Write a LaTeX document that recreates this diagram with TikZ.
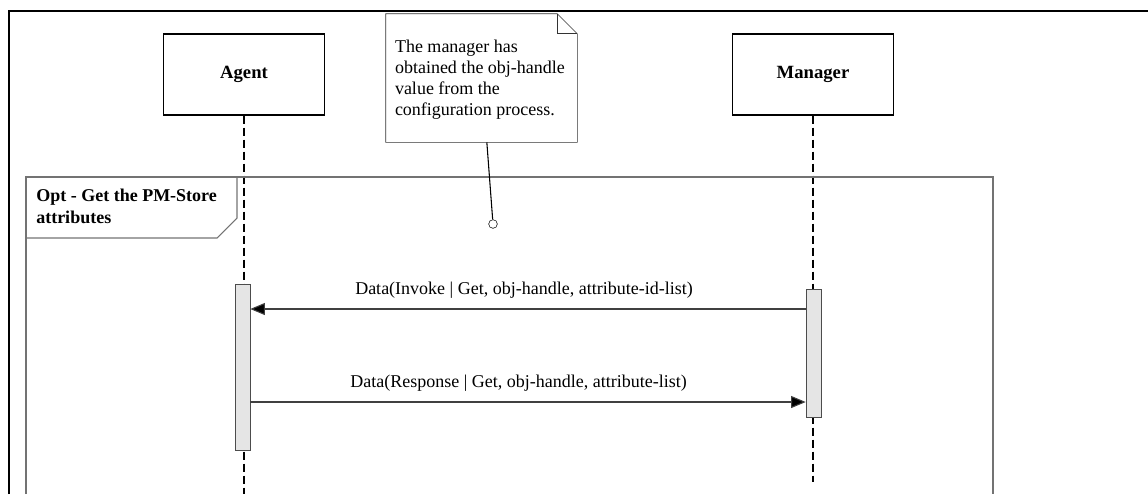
\documentclass[tikz,border=0pt]{standalone}
\usepackage{fontspec}
\setmainfont{Liberation Serif}
\usetikzlibrary{arrows.meta,positioning}

\tikzset{
	actor/.style={draw,line width=0.9pt,minimum width=120.75pt,minimum height=60.75pt,inner sep=0pt,font=\fontsize{14}{16}\selectfont\bfseries},
	lifeline/.style={dash pattern=on 6pt off 3pt,line width=0.9pt},
	actbar/.style={draw=black!70,fill=gray!20,minimum width=11.25pt,inner sep=0pt},
	msg/.style={draw=black!75,line width=0.8pt,-{Triangle[length=11pt,width=9pt,fill=black]}},
	notebox/.style={minimum width=143.25pt,minimum height=96pt,inner sep=0pt},
}

\begin{document}
\begin{tikzpicture}[x=0.75pt,y=-0.75pt,font=\fontsize{13.5}{15.75}\selectfont]
	\useasboundingbox (0,0) rectangle (1148,494);

	% Outer frame (cut by the page on the right and at the bottom)
	\draw [line width=1.5pt] (9,494) -- (9,11) -- (1148,11);

	% Lifeline heads
	\node [actor] (agent)   at (244,74.5) {Agent};
	\node [actor] (manager) at (813,74.5) {Manager};

	% Lifelines
	\coordinate (agentend)   at (244,494);
	\coordinate (managerend) at (813,482);
	\draw [lifeline] (agent.south)   -- (agent.south |- agentend);
	\draw [lifeline] (manager.south) -- (manager.south |- managerend);

	% Note with the folded corner:
	\node [notebox] (note) at (481.5,78) {};
	\draw [fill=white,draw=black!80] (note.south west) -- (note.north west) -- ([xshift=-15pt]note.north east)
		-- ([yshift=-15pt]note.north east) -- (note.south east) -- cycle;
	\draw [draw=black!80] ([xshift=-15pt]note.north east) |- ([yshift=-15pt]note.north east);
	\node [anchor=west,align=left,inner sep=0pt] (notetext) at ([xshift=6.75pt,yshift=-1pt]note.west)
		{The manager has\\obtained the obj-handle\\value from the\\configuration process.};

	% Opt fragment
	\begin{scope}[draw=black!55,line width=0.8pt]
		\draw (26,494) -- (26,177) -- (993,177) -- (993,494);
		\draw (26,177) -- (237,177) -- (237,218) -- (217,238) -- (26,238);
	\end{scope}
	\node [anchor=north west,font=\fontsize{13.5}{16.5}\selectfont\bfseries,align=left,inner sep=0pt] (optlabel) at (36,189) {Opt - Get the PM-Store\\attributes};

	% Note anchor
	\node [circle,draw,fill=white,minimum size=6.5pt,inner sep=0pt] (pin) at (493,224) {};
	\draw [line width=0.8pt] ([xshift=4pt]note.south) -- (pin);

	% Activation bars
	\node [actbar,minimum height=124.5pt] (agentbar)   at (242.5,367) {};
	\node [actbar,minimum height=96pt]    (managerbar) at (813.5,353) {};

	% Messages
	\coordinate (invoke)   at (0,309);
	\coordinate (response) at (0,402);
	\draw [msg] (managerbar.west |- invoke) -- (agentbar.east |- invoke)
		node [midway,above=4pt,xshift=-3pt] {Data(Invoke | Get, obj-handle, attribute-id-list)};
	\draw [msg] (agentbar.east |- response) -- (managerbar.west |- response)
		node [midway,above=4pt,xshift=-7pt] {Data(Response | Get, obj-handle, attribute-list)};
\end{tikzpicture}
\end{document}
